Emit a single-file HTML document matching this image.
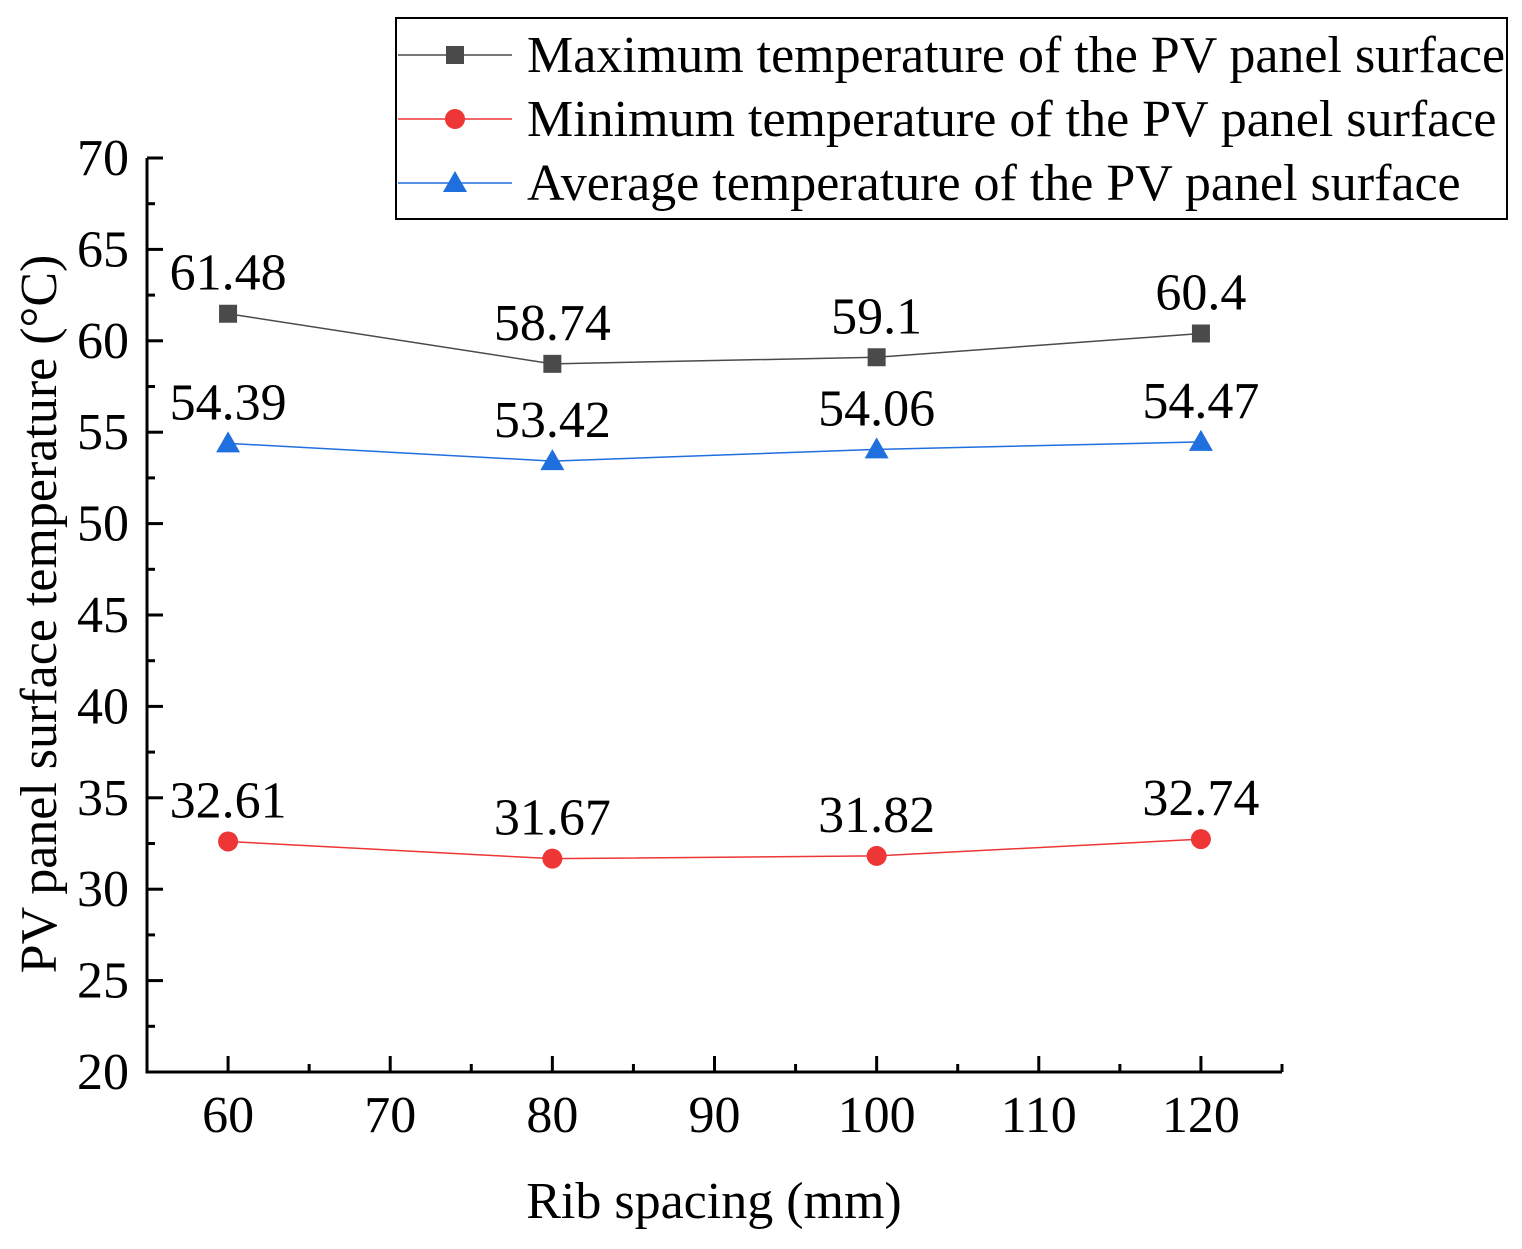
<!DOCTYPE html>
<html><head><meta charset="utf-8"><style>
body{margin:0;background:#fff}
svg text{font-family:"Liberation Serif",serif;fill:#000}
</style></head><body>
<svg width="1522" height="1244">
<g id="axes"></g><g id="series"></g>
</svg>
<script>
const categories=[60,80,100,120];
const maxVals=[61.48,58.74,59.1,60.4];
const minVals=[32.61,31.67,31.82,32.74];
const avgVals=[54.39,53.42,54.06,54.47];
const maxLabels=["61.48","58.74","59.1","60.4"];
const minLabels=["32.61","31.67","31.82","32.74"];
const avgLabels=["54.39","53.42","54.06","54.47"];
const yTicks=[20,25,30,35,40,45,50,55,60,65,70];
const xTicks=[60,70,80,90,100,110,120];
const NS="http://www.w3.org/2000/svg";
const X0=147,X1=1282,Y0=1072,Y1=158;
function sx(v){return X0+(v-55)/(125-55)*(X1-X0);}
function sy(v){return Y0-(v-20)/(70-20)*(Y0-Y1);}
function mk(tag,attrs,parent,txt){const e=document.createElementNS(NS,tag);for(const k in attrs)e.setAttribute(k,attrs[k]);if(txt!=null)e.textContent=txt;parent.appendChild(e);return e;}
const ax=document.getElementById('axes'),sr=document.getElementById('series');
let e;
e=mk('line',{x1:X0,y1:Y1,x2:X0,y2:Y0+1.5,stroke:'#000','stroke-width':3},ax);


e=mk('line',{x1:X0-1.5,y1:Y0,x2:X1,y2:Y0,stroke:'#000','stroke-width':3},ax);


for(let i=0;i<yTicks.length;i++){const v=yTicks[i],y=sy(v);
 mk('line',{x1:X0,y1:y,x2:X0+16,y2:y,stroke:'#000','stroke-width':3},ax);
 if(i<yTicks.length-1){const ym=sy(v+2.5);mk('line',{x1:X0,y1:ym,x2:X0+8,y2:ym,stroke:'#000','stroke-width':3},ax);}
 e=mk('text',{x:X0-18,y:y+17,'text-anchor':'end','font-size':52},ax,String(v));
 
 }
for(let i=0;i<xTicks.length;i++){const v=xTicks[i],x=sx(v);
 mk('line',{x1:x,y1:Y0,x2:x,y2:Y0-16,stroke:'#000','stroke-width':3},ax);
 mk('line',{x1:sx(v-5),y1:Y0,x2:sx(v-5),y2:Y0-8,stroke:'#000','stroke-width':3},ax);
 e=mk('text',{x:x,y:1132,'text-anchor':'middle','font-size':52},ax,String(v));
 
 }
mk('line',{x1:sx(125),y1:Y0,x2:sx(125),y2:Y0-8,stroke:'#000','stroke-width':3},ax);
e=mk('text',{x:714,y:1218,'text-anchor':'middle','font-size':52},ax,'Rib spacing (mm)');


e=mk('text',{x:56,y:614,'text-anchor':'middle','font-size':52,transform:'rotate(-90 56 614)'},ax,'PV panel surface temperature (°C)');


function marker(g,type,x,y,c){
 if(type==='sq')return mk('rect',{x:x-9,y:y-9,width:18,height:18,fill:c},g);
 if(type==='ci')return mk('circle',{cx:x,cy:y,r:10,fill:c},g);
 return mk('polygon',{points:`${x},${y-12} ${x+12},${y+9} ${x-12},${y+9}`,fill:c},g);}
function series(vals,labels,color,type,name,dy){
 const g=mk('g',{},sr);
 
 
 mk('polyline',{points:vals.map((v,i)=>sx(categories[i])+','+sy(v)).join(' '),fill:'none',stroke:color,'stroke-width':1.5},g);
 vals.forEach((v,i)=>{const x=sx(categories[i]),y=sy(v);
  const m=marker(g,type,x,y,color);
  
  
  const t=mk('text',{x:x,y:y-dy,'text-anchor':'middle','font-size':52},g,labels[i]);
  
  });}
series(maxVals,maxLabels,'#4a4a4a','sq','max-series',24);
series(avgVals,avgLabels,'#1f6fde','tr','avg-series',24);
series(minVals,minLabels,'#ee3636','ci','min-series',24);
const lg=mk('g',{},sr);


mk('rect',{x:396,y:18,width:1111,height:201,fill:'#fff',stroke:'#000','stroke-width':2},lg);
const leg=[['Maximum temperature of the PV panel surface','#4a4a4a','sq',55],['Minimum temperature of the PV panel surface','#ee3636','ci',119],['Average temperature of the PV panel surface','#1f6fde','tr',183]];
leg.forEach(l=>{
 mk('line',{x1:398,y1:l[3],x2:512,y2:l[3],stroke:l[1],'stroke-width':1.5},lg);
 marker(lg,l[2],455,l[3],l[1]);
 const t=mk('text',{x:527,y:l[3]+17,'font-size':52},lg,l[0]);
 
 });
</script>
</body></html>
